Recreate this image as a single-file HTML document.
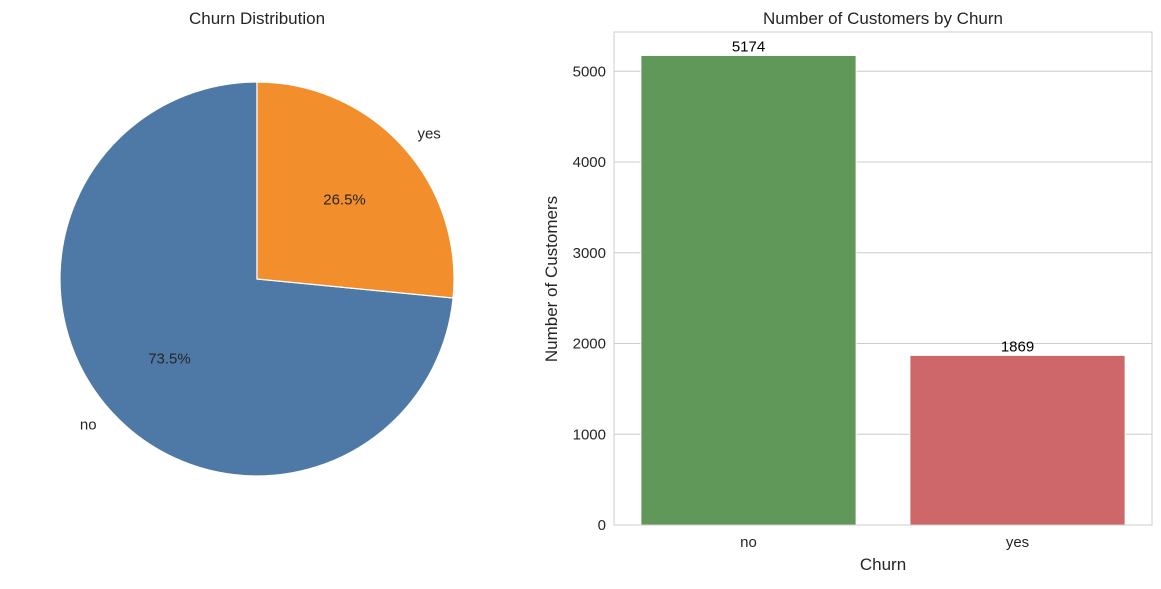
<!DOCTYPE html>
<html><head><meta charset="utf-8"><style>
body{margin:0;background:#fff;font-family:"Liberation Sans",Arial,sans-serif;}
svg text{font-family:"Liberation Sans",Arial,sans-serif;fill:#262626;}
</style></head><body>
<svg id="chart" width="1161" height="584" xmlns="http://www.w3.org/2000/svg">
<text x="257" y="24" font-size="17" text-anchor="middle">Churn Distribution</text>
<g id="pie"></g>
<text x="883" y="24" font-size="17" text-anchor="middle">Number of Customers by Churn</text>
<g id="bars"></g>
<text x="883" y="570" font-size="17" text-anchor="middle">Churn</text>
<text x="557" y="279" font-size="17" text-anchor="middle" transform="rotate(-90 557 279)">Number of Customers</text>
</svg>
<script>
const categories = ["no", "yes"];
const counts = [5174, 1869];
const pieColors = ["#4e79a7", "#f28e2b"];
const barColors = ["#5f9858", "#cd6769"];
const yTicks = [0, 1000, 2000, 3000, 4000, 5000];
const NS = "http://www.w3.org/2000/svg";
function mk(tag, attrs, parent, txt){const e=document.createElementNS(NS,tag);for(const k in attrs)e.setAttribute(k,attrs[k]);if(txt!==undefined)e.textContent=txt;parent.appendChild(e);return e;}

// Pie
const pie=document.getElementById('pie');
const cx=257, cy=279, R=197;
const total=counts.reduce((a,b)=>a+b,0);
let start=90;
counts.forEach((v,i)=>{
  const sweep=v/total*360, end=start+sweep;
  const a0=start*Math.PI/180, a1=end*Math.PI/180;
  const x0=cx+R*Math.cos(a0), y0=cy-R*Math.sin(a0), x1=cx+R*Math.cos(a1), y1=cy-R*Math.sin(a1);
  const large=sweep>180?1:0;
  const p=mk('path',{d:`M${cx},${cy} L${x0},${y0} A${R},${R} 0 ${large} 0 ${x1},${y1} Z`,fill:pieColors[i],stroke:'#fff','stroke-width':1.2},pie);
  
  
  const mid=(start+sweep/2)*Math.PI/180;
  const lx=cx+1.1*R*Math.cos(mid);
  const l=mk('text',{x:lx,y:cy-1.1*R*Math.sin(mid)+5,'font-size':15,'text-anchor':(lx>cx?'start':'end')},pie,categories[i]);
  
  
  const t=mk('text',{x:cx+0.6*R*Math.cos(mid),y:cy-0.6*R*Math.sin(mid)+5,'font-size':15,'text-anchor':'middle'},pie,(v/total*100).toFixed(1)+'%');
  
  
  start=end;
});

// Bars
const g=document.getElementById('bars');
const L=614, Rt=1152, T=32, B=525;
const ymax=Math.max(...counts)*1.05;
const y=v=>B-(v/ymax)*(B-T);
const bw=(Rt-L)/categories.length;
const xc=i=>L+bw*(i+0.5);
yTicks.forEach(t=>{
  const ln=mk('line',{x1:L,x2:Rt,y1:y(t),y2:y(t),stroke:'#cccccc','stroke-width':1},g);
  
  
  const tx=mk('text',{x:L-8,y:y(t)+5,'font-size':15,'text-anchor':'end'},g,t);
  
  
});
categories.forEach((c,i)=>{
  const w=bw*0.8;
  const r=mk('rect',{x:xc(i)-w/2,y:y(counts[i]),width:w,height:B-y(counts[i]),fill:barColors[i],stroke:'#fff','stroke-width':1},g);
  
  
  const v=mk('text',{x:xc(i),y:y(counts[i])-4,'font-size':15,'text-anchor':'middle',style:'fill:#000'},g,counts[i]);
  
  
  const xl=mk('text',{x:xc(i),y:B+22,'font-size':15,'text-anchor':'middle'},g,c);
  
  
});
const fr=mk('rect',{x:L,y:T,width:Rt-L,height:B-T,fill:'none',stroke:'#cccccc','stroke-width':1},g);


</script>
</body></html>
